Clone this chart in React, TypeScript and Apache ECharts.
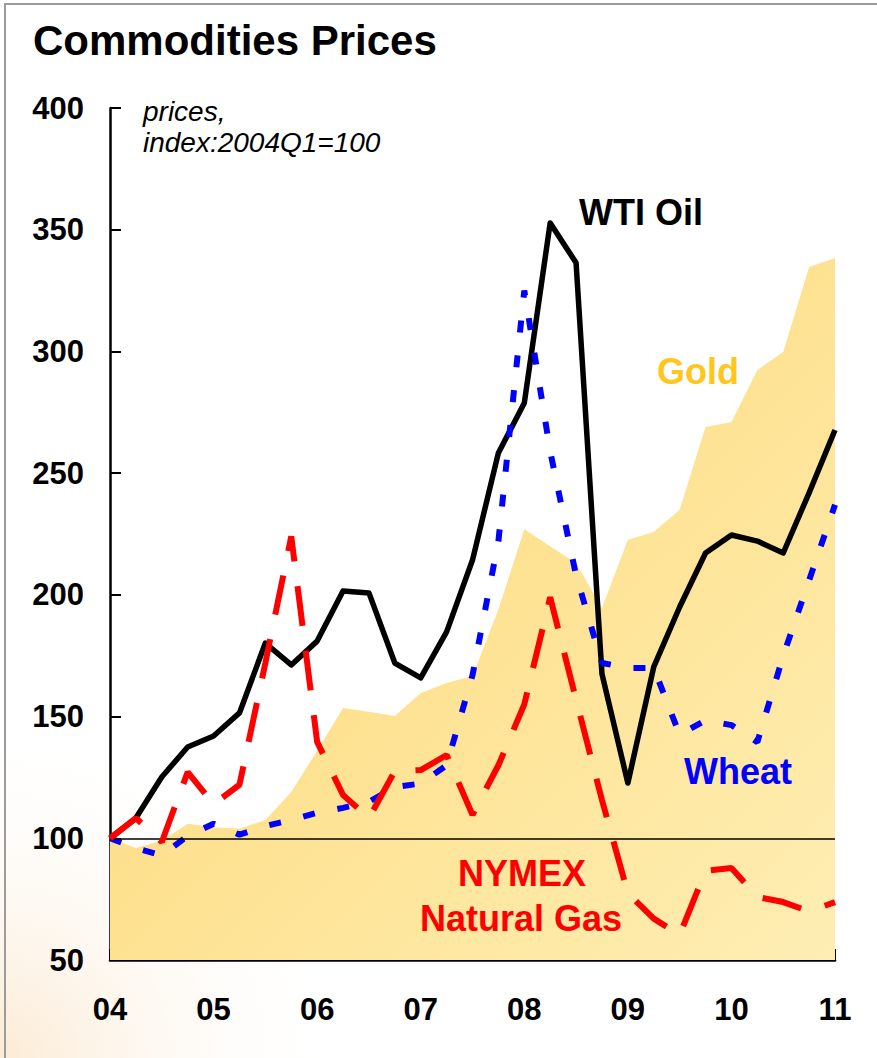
import React, { useEffect, useRef } from 'react';
import * as echarts from 'echarts';

const quarters = [
  '2004Q1', '2004Q2', '2004Q3', '2004Q4',
  '2005Q1', '2005Q2', '2005Q3', '2005Q4',
  '2006Q1', '2006Q2', '2006Q3', '2006Q4',
  '2007Q1', '2007Q2', '2007Q3', '2007Q4',
  '2008Q1', '2008Q2', '2008Q3', '2008Q4',
  '2009Q1', '2009Q2', '2009Q3', '2009Q4',
  '2010Q1', '2010Q2', '2010Q3', '2010Q4',
  '2011Q1',
];
const yearLabels = ['04', '05', '06', '07', '08', '09', '10', '11'];

const wtiOil = [100, 108.3, 125.2, 137.5, 142, 151.5, 180.2, 171.2, 181, 201.6, 200.8, 172, 165.9, 184.8, 214.3, 258.3, 278.8, 352.8, 336.4, 167.5, 122.7, 170.4, 195, 217.2, 224.6, 222.1, 217.2, 241.9, 267.7];
const wheat = [100, 96, 93, 101, 106, 101.5, 105, 107.5, 110.5, 112.5, 115, 121, 122.5, 130, 167, 222, 325, 259, 208, 172, 170, 170, 142.5, 148.5, 146.5, 139.5, 175, 206, 237];
const naturalGas = [100, 108.3, 98.5, 127.2, 114, 122, 172, 224, 139.6, 117.8, 108.3, 127.6, 128, 134.2, 109.6, 130, 155, 199, 157, 115.7, 77.5, 67, 60.3, 86.6, 87.8, 75.9, 73.8, 70, 73.8];
const gold = [100, 96, 99, 106, 104.5, 104, 107.5, 119, 136, 153.5, 152, 150.2, 159.7, 163.8, 166.7, 194, 227, 220, 213, 194.6, 222.6, 225.8, 235, 269, 271, 292.4, 299.8, 334.7, 338.4];

const Y_MIN = 50;
const Y_MAX = 400;
const Y_STEP = 50;
const BASE_LINE = 100;

const FONT = '"Liberation Sans", Arial, sans-serif';

export default function App() {
  const ref = useRef<HTMLDivElement | null>(null);

  useEffect(() => {
    if (!ref.current) return;
    const chart = echarts.init(ref.current, undefined, { renderer: 'svg' });

    const labelText = (text: string, x: number, y: number, color: string) => ({
      type: 'text',
      x,
      y,
      z: 100,
      style: {
        text,
        fill: color,
        fontSize: 36,
        fontWeight: 'bold',
        fontFamily: FONT,
        align: 'center',
        verticalAlign: 'middle',
      },
    });

    chart.setOption({
      animation: false,
      backgroundColor: '#ffffff',
      grid: { left: 110, right: 42, top: 108, bottom: 98 },
      xAxis: {
        type: 'category',
        data: quarters,
        boundaryGap: false,
        axisLine: { show: true, lineStyle: { color: '#000', width: 2.5 } },
        axisTick: { show: true, inside: true, length: 11, interval: 3, lineStyle: { color: '#000', width: 2 } },
        axisLabel: {
          interval: 3,
          margin: 34,
          color: '#000',
          fontSize: 31,
          fontWeight: 'bold',
          fontFamily: FONT,
          formatter: (_v: string, i: number) => yearLabels[i / 4] ?? '',
        },
        splitLine: { show: false },
      },
      yAxis: {
        type: 'value',
        min: Y_MIN,
        max: Y_MAX,
        interval: Y_STEP,
        axisLine: { show: true, lineStyle: { color: '#000', width: 2.5 } },
        axisTick: { show: true, inside: true, length: 11, lineStyle: { color: '#000', width: 2 } },
        axisLabel: {
          margin: 26,
          color: '#000',
          fontSize: 31,
          fontWeight: 'bold',
          fontFamily: FONT,
        },
        splitLine: { show: false },
      },
      graphic: [
        {
          type: 'circle',
          z: -1,
          shape: { cx: 0, cy: 1058, r: 360 },
          style: {
            fill: {
              type: 'radial', x: 0.5, y: 0.5, r: 0.5,
              colorStops: [
                { offset: 0, color: 'rgba(246,205,150,0.4)' },
                { offset: 1, color: 'rgba(255,255,255,0)' },
              ],
            },
          },
        },
        {
          type: 'rect',
          z: 0,
          shape: { x: 5, y: 4, width: 900, height: 1100 },
          style: { fill: 'none', stroke: '#9c9c9c', lineWidth: 2 },
        },
        {
          type: 'text',
          left: 33,
          top: 19,
          z: 100,
          style: { text: 'Commodities Prices', fill: '#000', fontSize: 42, fontWeight: 'bold', fontFamily: FONT },
        },
        {
          type: 'text',
          left: 143,
          top: 97,
          z: 100,
          style: { text: 'prices,', fill: '#000', fontSize: 28, fontStyle: 'italic', fontFamily: FONT },
        },
        {
          type: 'text',
          left: 143,
          top: 128,
          z: 100,
          style: { text: 'index:2004Q1=100', fill: '#000', fontSize: 28, fontStyle: 'italic', fontFamily: FONT },
        },
        labelText('WTI Oil', 641, 212, '#000'),
        labelText('Gold', 698, 371, '#FFC61E'),
        labelText('Wheat', 738, 771, '#0000FF'),
        labelText('NYMEX', 522, 873, '#FF0000'),
        labelText('Natural Gas', 521, 918, '#FF0000'),
      ],
      series: [
        {
          name: 'Gold',
          type: 'line',
          data: gold,
          symbol: 'none',
          lineStyle: { width: 0 },
          areaStyle: {
            origin: 'start',
            opacity: 1,
            color: {
              type: 'linear', x: 0, y: 0, x2: 1, y2: 1,
              colorStops: [
                { offset: 0, color: '#FDD670' },
                { offset: 1, color: '#FEEEB4' },
              ],
            },
          },
          z: 1,
        },
        {
          name: 'base',
          type: 'line',
          data: [],
          symbol: 'none',
          markLine: {
            silent: true,
            symbol: 'none',
            label: { show: false },
            lineStyle: { color: '#000', width: 1.5, type: 'solid' },
            data: [{ yAxis: BASE_LINE }],
          },
          z: 2,
        },
        {
          name: 'WTI Oil',
          type: 'line',
          data: wtiOil,
          symbol: 'none',
          lineStyle: { color: '#000', width: 5.5, join: 'round' },
          z: 3,
        },
        {
          name: 'Wheat',
          type: 'line',
          data: wheat,
          symbol: 'none',
          lineStyle: { color: '#0000FF', width: 6, type: [12, 23] },
          z: 4,
        },
        {
          name: 'NYMEX Natural Gas',
          type: 'line',
          data: naturalGas,
          symbol: 'none',
          lineStyle: { color: '#FF0000', width: 6, type: [40, 25] },
          z: 5,
        },
      ],
    });

    return () => chart.dispose();
  }, []);

  return (
    <div
      ref={ref}
      style={{ position: 'fixed', left: 0, top: 0, width: 877, height: 1058 }}
    />
  );
}
